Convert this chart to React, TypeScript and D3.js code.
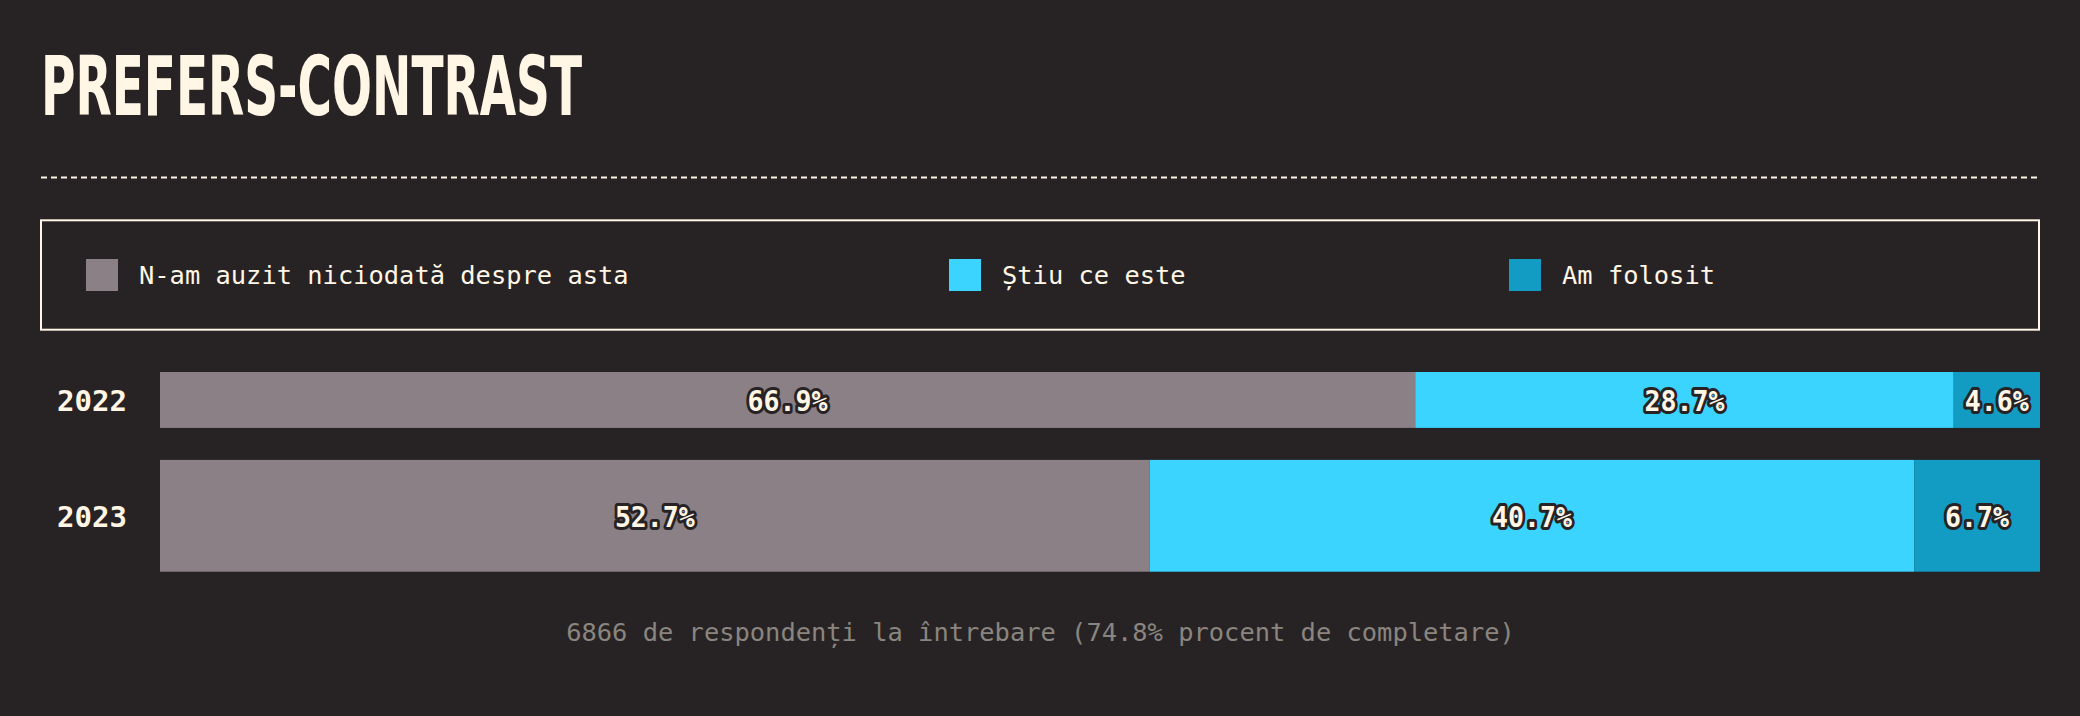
import { useMemo } from "react"
import * as d3 from "d3"

const TITLE = "PREFERS-CONTRAST"
const YEARS = ["2022", "2023"]
const CATEGORIES = ["N-am auzit niciodată despre asta", "Știu ce este", "Am folosit"]
const VALUES_2022 = [66.9, 28.7, 4.6]
const VALUES_2023 = [52.7, 40.7, 6.7]
// relative bar thickness per year, as drawn in the reference
const BAR_WEIGHTS = [1, 2]
const FOOTER = "6866 de respondenți la întrebare (74.8% procent de completare)"

const COLORS = ["#8b8086", "#3bd4ff", "#139cc3"]
const BG = "#272324"
const CREAM = "#fff6e6"

const W = 2080
const H = 716
const LEFT = 41
const RIGHT = 2040
const MONO_CH = 15.3

export default function App() {
  const series = [VALUES_2022, VALUES_2023]

  const x = useMemo(() => d3.scaleLinear().domain([0, 1]).range([160, RIGHT]), [])

  // stacked y bands with gap, heights weighted
  const barTop = 372
  const gap = 32
  const totalH = 571.7 - barTop - gap
  const unit = totalH / d3.sum(BAR_WEIGHTS)
  const tops: number[] = []
  let acc = barTop
  BAR_WEIGHTS.forEach((w) => {
    tops.push(acc)
    acc += w * unit + gap
  })

  const legendX = [86, 949, 1509]

  return (
    <svg width={W} height={H} style={{ display: "block", position: "absolute", left: 0, top: 0, background: BG }}>
      <rect width={W} height={H} fill={BG} />
      <text
        x={LEFT}
        y={115}
        fill={CREAM}
        fontFamily="'Liberation Sans Narrow', 'DejaVu Sans Condensed', sans-serif"
        fontWeight="bold"
        fontSize={82}
        textLength={541}
        lengthAdjust="spacingAndGlyphs"
      >
        {TITLE}
      </text>
      <line x1={LEFT} x2={RIGHT} y1={177.5} y2={177.5} stroke={CREAM} strokeWidth={2} strokeDasharray="6 4" />

      {/* Legend */}
      <rect x={41} y={220.3} width={1998} height={109.4} fill="none" stroke={CREAM} strokeWidth={2} />
      {CATEGORIES.map((c, i) => (
        <g key={c} transform={`translate(${legendX[i]},259)`}>
          <rect width={32} height={32} fill={COLORS[i]} />
          <text
            x={53}
            y={25}
            fill={CREAM}
            fontFamily="'DejaVu Sans Mono', monospace"
            fontSize={25}
            textLength={c.length * MONO_CH}
            lengthAdjust="spacingAndGlyphs"
          >
            {c}
          </text>
        </g>
      ))}

      {/* Bars */}
      {series.map((vals, r) => {
        const total = d3.sum(vals)
        const stack = d3.cumsum(vals).map((v) => v / total)
        const y0 = tops[r]
        const h = BAR_WEIGHTS[r] * unit
        return (
          <g key={YEARS[r]}>
            <text
              x={57}
              y={y0 + h / 2 + 11}
              fill={CREAM}
              fontFamily="'DejaVu Sans Mono', monospace"
              fontWeight="bold"
              fontSize={29}
              textLength={70}
              lengthAdjust="spacingAndGlyphs"
            >
              {YEARS[r]}
            </text>
            {vals.map((v, i) => {
              const a = i === 0 ? 0 : stack[i - 1]
              const b = stack[i]
              return (
                <rect key={i} x={x(a)} y={y0} width={x(b) - x(a)} height={h} fill={COLORS[i]} />
              )
            })}
            {vals.map((v, i) => {
              const a = i === 0 ? 0 : stack[i - 1]
              const b = stack[i]
              const label = `${v.toFixed(1)}%`
              return (
                <text
                  key={"l" + i}
                  x={(x(a) + x(b)) / 2}
                  y={y0 + h / 2 + 11}
                  textAnchor="middle"
                  fill={CREAM}
                  stroke={BG}
                  strokeWidth={6}
                  strokeLinejoin="round"
                  paintOrder="stroke"
                  fontFamily="'DejaVu Sans Mono', monospace"
                  fontWeight="bold"
                  fontSize={28}
                  textLength={label.length * 16}
                  lengthAdjust="spacingAndGlyphs"
                >
                  {label}
                </text>
              )
            })}
          </g>
        )
      })}

      <text
        x={(LEFT + RIGHT) / 2}
        y={641}
        textAnchor="middle"
        fill="#8a857f"
        fontFamily="'DejaVu Sans Mono', monospace"
        fontSize={25}
        textLength={FOOTER.length * MONO_CH}
        lengthAdjust="spacingAndGlyphs"
      >
        {FOOTER}
      </text>
    </svg>
  )
}
